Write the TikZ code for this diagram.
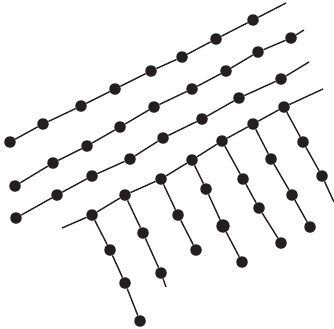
\documentclass[tikz,border=0pt]{standalone}
\usepackage{tikz}
\definecolor{inkblack}{RGB}{35,31,32}
\usetikzlibrary{positioning}

\begin{document}
\begin{tikzpicture}[x=0.03cm, y=-0.03cm,
  bead/.style={circle, fill=inkblack, inner sep=0pt, minimum size=0.345cm},
  bigbead/.style={bead, minimum size=0.4cm},
  strand/.style={draw=inkblack, line width=1.2pt}]
  \useasboundingbox (0,0) rectangle (334,328);

  % Strand A (top)
  \node[bead] (a1) at (10,142) {};
  \node[bead] (a2) at (43,124) {};
  \node[bead] (a3) at (81,106) {};
  \node[bead] (a4) at (115,89) {};
  \node[bead] (a5) at (151,71) {};
  \node[bead] (a6) at (182,57) {};
  \node[bead] (a7) at (216,39) {};
  \node[bead] (a8) at (253,20) {};
  \coordinate (aend) at (286,3);
  \draw[strand] (a1) -- (a2) -- (a3) -- (a4) -- (a5) -- (a6) -- (a7) -- (a8) -- (aend);

  % Strand B
  \node[bead] (b1) at (15,186) {};
  \node[bead] (b2) at (53,163) {};
  \node[bead] (b3) at (87,146) {};
  \node[bead] (b4) at (120,127) {};
  \node[bead] (b5) at (154,107) {};
  \node[bead] (b6) at (192,89) {};
  \node[bead] (b7) at (226,71) {};
  \node[bead] (b8) at (258,52) {};
  \node[bead] (b9) at (291,38) {};
  \coordinate (bend) at (304,30);
  \draw[strand] (b1) -- (b2) -- (b3) -- (b4) -- (b5) -- (b6) -- (b7) -- (b8) -- (b9) -- (bend);

  % Strand C
  \node[bead] (c1) at (16,218) {};
  \node[bead] (c2) at (57,195) {};
  \node[bead] (c3) at (92,176) {};
  \node[bead] (c4) at (130,159) {};
  \node[bead] (c5) at (163,138) {};
  \node[bead] (c6) at (202,119) {};
  \node[bead] (c7) at (239,98) {};
  \node[bead] (c8) at (281,79) {};
  \coordinate (cend) at (309,62);
  \draw[strand] (c1) -- (c2) -- (c3) -- (c4) -- (c5) -- (c6) -- (c7) -- (c8) -- (cend);

  % Strand D (backbone with side chains)
  \coordinate (dstart) at (62,228);
  \node[bead] (d1) at (92,215) {};
  \node[bead] (d2) at (125,195) {};
  \node[bead] (d3) at (161,179) {};
  \node[bead] (d4) at (192,160) {};
  \node[bead] (d5) at (222,141) {};
  \node[bead] (d6) at (253,124) {};
  \node[bead] (d7) at (284,107) {};
  \coordinate (dend) at (323,89);
  \draw[strand] (dstart) -- (d1) -- (d2) -- (d3) -- (d4) -- (d5) -- (d6) -- (d7) -- (dend);

  % Side chain 1
  \node[bead] (e1) at (110,250) {};
  \node[bead] (e2) at (125,283) {};
  \node[bead] (e3) at (140,321) {};
  \draw[strand] (d1) -- (e1) -- (e2) -- (e3);

  % Side chain 2
  \node[bead] (f1) at (143,233) {};
  \node[bead] (f2) at (161,273) {};
  \coordinate (fend) at (166,287);
  \draw[strand] (d2) -- (f1) -- (f2) -- (fend);

  % Side chain 3
  \node[bead] (g1) at (178,215) {};
  \node[bead] (g2) at (196,250) {};
  \draw[strand] (d3) -- (g1) -- (g2);

  % Side chain 4
  \node[bead] (h1) at (206,189) {};
  \node[bigbead] (h2) at (223,226) {};
  \node[bead] (h3) at (242,262) {};
  \draw[strand] (d4) -- (h1) -- (h2) -- (h3);

  % Side chain 5
  \node[bead] (i1) at (243,179) {};
  \node[bead] (i2) at (259,208) {};
  \node[bead] (i3) at (281,243) {};
  \draw[strand] (d5) -- (i1) -- (i2) -- (i3);

  % Side chain 6
  \node[bead] (j1) at (271,159) {};
  \node[bead] (j2) at (292,195) {};
  \node[bead] (j3) at (310,227) {};
  \draw[strand] (d6) -- (j1) -- (j2) -- (j3);

  % Side chain 7
  \node[bead] (k1) at (303,142) {};
  \node[bead] (k2) at (322,176) {};
  \coordinate (kend) at (334,202);
  \draw[strand] (d7) -- (k1) -- (k2) -- (kend);
\end{tikzpicture}
\end{document}
